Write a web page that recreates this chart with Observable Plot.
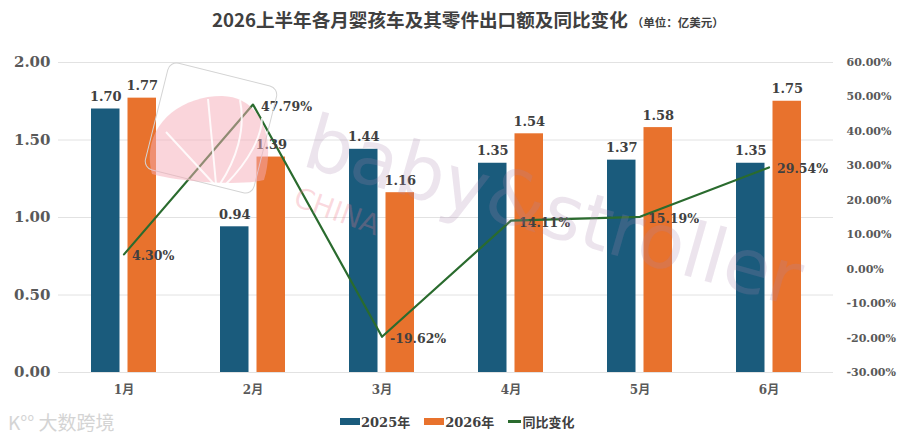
<!DOCTYPE html>
<html>
<head>
<meta charset="utf-8">
<script src="https://cdn.jsdelivr.net/npm/d3@7"></script>
<script src="https://cdn.jsdelivr.net/npm/@observablehq/plot@0.6"></script>
<style>
  html, body { margin: 0; padding: 0; background: #fff; }
  #wrap { position: relative; width: 900px; height: 438px; overflow: hidden; font-family: "DejaVu Serif", "Noto Sans CJK SC", serif; }
  #title { position: absolute; left: 212px; top: 5px; height: 28px; line-height: 28px; white-space: nowrap; color: #404040; font-weight: bold; font-size: 18.6px; font-family: "Noto Sans CJK SC", sans-serif; }
  #title .unit { font-size: 11.5px; font-weight: bold; margin-left: 4px; }
  #chart { position: absolute; left: 0; top: 34px; }
  #legend { position: absolute; left: 340px; top: 411px; height: 20px; display: flex; align-items: center; font-size: 13px; font-weight: bold; color: #404040; font-family: "DejaVu Serif", "Noto Sans CJK SC", serif; white-space: nowrap; }
  #legend .item { display: flex; align-items: center; margin-right: 14px; }
  #legend .sw { width: 20px; height: 7px; margin-right: 1px; }
  #legend .ln { width: 13px; height: 3px; margin-right: 1px; }
  #logo { position: absolute; left: 8px; top: 408px; font-size: 19px; color: #d4d4d4; font-family: "Noto Sans CJK SC", sans-serif; white-space: nowrap; }
  #wm { position: absolute; left: 0; top: 0; pointer-events: none; }
</style>
</head>
<body>
<div id="wrap">
  <div id="title">2026上半年各月婴孩车及其零件出口额及同比变化<span class="unit">（单位：亿美元）</span></div>
  <div id="chart"></div>
  <svg id="wm" width="900" height="438">
    <g transform="translate(211,128) rotate(14)">
      <rect x="-56" y="-55" width="112" height="110" rx="9" fill="none" stroke="#d4d4d4" stroke-width="1"/>
    </g>
    <path d="M152,174 C140,128 178,96 222,96 C262,97 276,140 264,180 C240,186 180,182 152,174 Z" fill="rgba(246,172,184,0.5)"/>
    <path d="M216,184 L208,99 M214,184 L166,132 M220,184 C236,160 246,130 240,100 M226,184 C250,160 262,135 262,118" stroke="rgba(255,255,255,0.85)" stroke-width="2" fill="none"/>
    <text x="300" y="165" transform="rotate(16 300 165)" font-family="DejaVu Sans, sans-serif" font-size="76" fill="rgba(170,130,175,0.22)">baby&amp;stroller</text>
    <text x="292" y="205" transform="rotate(20 292 205)" font-family="DejaVu Sans, sans-serif" font-size="28" fill="rgba(240,120,140,0.28)">CHINA</text>
  </svg>
  <div id="legend">
    <div class="item"><div class="sw" style="background:#1a5b7c"></div>2025年</div>
    <div class="item"><div class="sw" style="background:#e8722d"></div>2026年</div>
    <div class="item"><div class="ln" style="background:#2a6b2e"></div>同比变化</div>
  </div>
  <div id="logo">K°° 大数跨境</div>
</div>
<script>
const months = ["1月","2月","3月","4月","5月","6月"];
const v2025 = [1.70, 0.94, 1.44, 1.35, 1.37, 1.35];
const v2026 = [1.77, 1.39, 1.16, 1.54, 1.58, 1.75];
const yoy = [4.30, 47.79, -19.62, 14.11, 15.19, 29.54];
const leftTicks = [0, 0.5, 1.0, 1.5, 2.0];
const rightTicks = [-30, -20, -10, 0, 10, 20, 30, 40, 50, 60];

const blue = "#1a5b7c", orange = "#e8722d", green = "#2a6b2e";
const txt = "#404040", tick = "#595959";
const numFont = "DejaVu Serif, Noto Sans CJK SC, serif";

// right axis (-30%..60%) mapped onto left domain (0..2)
const pctToLeft = p => (p + 30) / 45;
const leftToPct = v => Math.round(v * 45 - 30);

const rows = months.map((m, i) => ({month: m, a: v2025[i], b: v2026[i], p: yoy[i]}));

const chart = Plot.plot({
  width: 900,
  height: 372,
  marginLeft: 58,
  marginRight: 67,
  marginTop: 28,
  marginBottom: 34,
  style: {background: "transparent", overflow: "visible"},
  x: {domain: months, padding: 0, label: null},
  y: {domain: [0, 2], label: null},
  marks: [
    Plot.gridY(leftTicks, {stroke: "#e2e2e2", strokeOpacity: 1}),
    Plot.axisY(leftTicks, {anchor: "left", tickSize: 0, tickPadding: 8, tickFormat: d => d.toFixed(2),
      fontSize: 15, fontWeight: "bold", fontFamily: numFont, fill: tick, label: null}),
    Plot.axisY(rightTicks.map(pctToLeft), {anchor: "right", tickSize: 0, tickPadding: 13,
      tickFormat: d => leftToPct(d).toFixed(2) + "%", textAnchor: "start",
      fontSize: 11, fontWeight: "bold", fontFamily: numFont, fill: tick, label: null}),
    Plot.axisX({tickSize: 0, tickPadding: 13, fontSize: 12, fontWeight: "bold", fontFamily: numFont, fill: tick, label: null}),
    Plot.barY(rows, {x: "month", y: "a", fill: blue, insetLeft: 32, insetRight: 68.5}),
    Plot.barY(rows, {x: "month", y: "b", fill: orange, insetLeft: 68.5, insetRight: 32}),
    Plot.line(rows, {x: "month", y: d => pctToLeft(d.p), stroke: green, strokeWidth: 2.2}),
    Plot.text(rows, {x: "month", y: "a", text: d => d.a.toFixed(2), dx: -18.25, dy: -8, lineAnchor: "bottom",
      fontSize: 13, fontWeight: "bold", fontFamily: numFont, fill: txt}),
    Plot.text(rows, {x: "month", y: "b", text: d => d.b.toFixed(2), dx: 18.25, dy: -8, lineAnchor: "bottom",
      fontSize: 13, fontWeight: "bold", fontFamily: numFont, fill: txt}),
    Plot.text(rows, {x: "month", y: d => pctToLeft(d.p), text: d => d.p.toFixed(2) + "%", textAnchor: "start",
      dx: 8, dy: 2, fontSize: 12.5, fontWeight: "bold", fontFamily: numFont, fill: txt})
  ]
});
document.getElementById("chart").appendChild(chart);
</script>
</body>
</html>
